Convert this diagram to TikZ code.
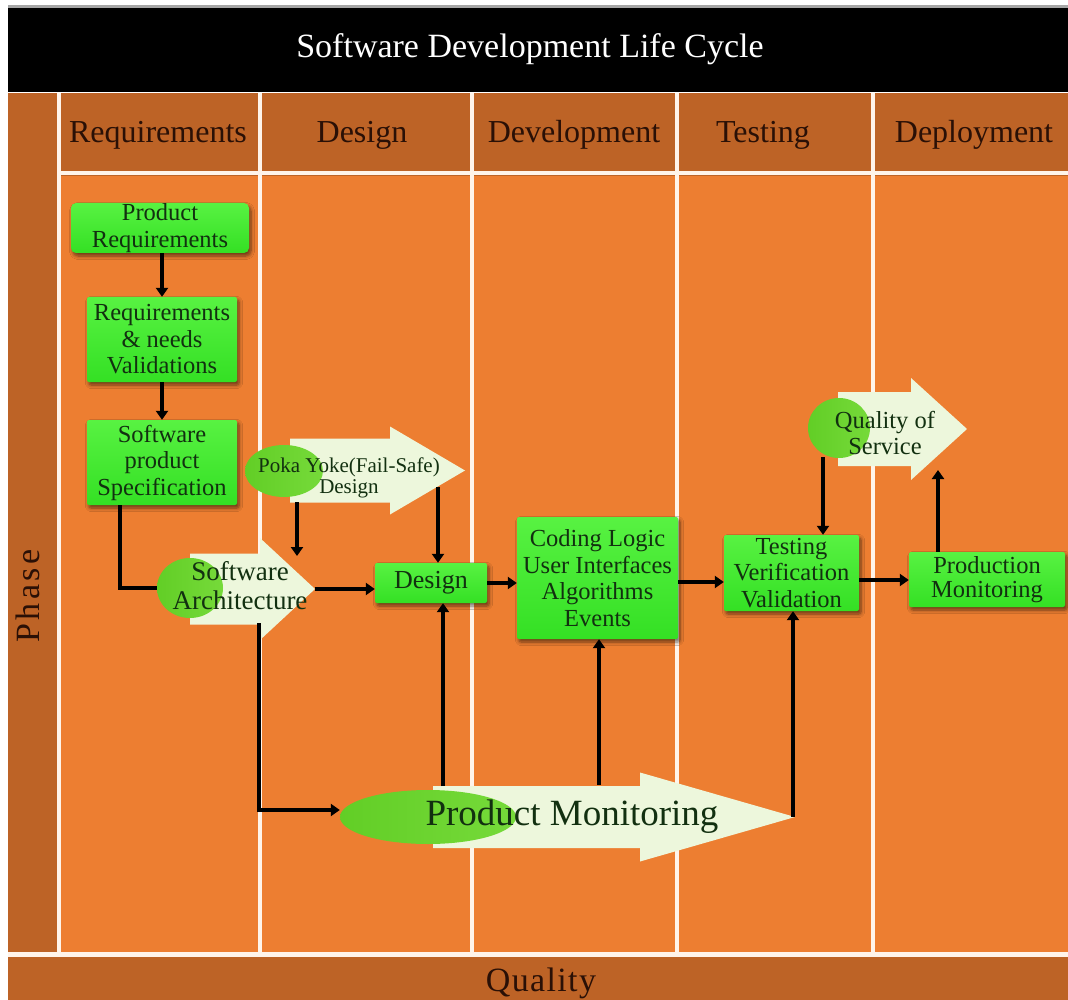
\documentclass[tikz,border=0pt]{standalone}
\usepackage{fontspec}
\setmainfont{Liberation Serif}
\usetikzlibrary{arrows.meta,shadows,shadows.blur,shapes.geometric,calc}

\definecolor{bandorange}{RGB}{189,99,38}
\definecolor{laneorange}{RGB}{237,126,49}
\definecolor{laneline}{RGB}{255,244,234}
\definecolor{boxtop}{RGB}{88,242,66}
\definecolor{boxbottom}{RGB}{52,224,36}
\definecolor{ovalgreen}{RGB}{98,206,38}
\definecolor{ovallight}{RGB}{118,218,58}
\definecolor{paleshape}{RGB}{237,247,220}
\definecolor{inkgreen}{RGB}{18,48,16}
\definecolor{headink}{RGB}{42,16,6}

% pale block arrow: name, tail x, neck x, tip x, mid y, half shaft, half head
\newcommand{\palearrow}[7]{%
  \fill[paleshape] (#2,#5-#6) -- (#3,#5-#6) -- (#3,#5-#7) -- (#4,#5)
        -- (#3,#5+#7) -- (#3,#5+#6) -- (#2,#5+#6) -- cycle;
  \coordinate (#1-tip) at (#4,#5);}

\begin{document}
\begin{tikzpicture}[x=1pt,y=-1pt,
  lanerule/.style={draw=laneline,line width=4pt},
  headtext/.style={anchor=base,text=headink,font=\fontsize{32}{36}\selectfont},
  gbox/.style={rounded corners=2pt,top color=boxtop,bottom color=boxbottom,
    inner sep=0pt,align=center,text=inkgreen,
    font=\fontsize{24.5}{26.5}\selectfont,
    blur shadow={shadow xshift=2pt,shadow yshift=-3pt,shadow blur radius=3.5pt,
      shadow blur steps=6,shadow opacity=55}},
  oval/.style={ellipse,inner sep=0pt,left color=ovalgreen,right color=ovallight},
  ovaltext/.style={align=center,text=inkgreen},
  wire/.style={line width=4.5pt},
  conn/.style={line width=4.5pt,-{Triangle[length=9pt,width=12pt]}}]

\useasboundingbox (0,0) rectangle (1068,1000);
\fill[white] (0,0) rectangle (1068,1000);

% title bar
\fill[black!35] (8,5) rectangle (1068,8);
\fill[black] (8,8) rectangle (1068,92);
\node[anchor=base,text=white,font=\fontsize{34}{40}\selectfont] (title) at (530,58)
  {Software Development Life Cycle};

% bands and lanes
\fill[bandorange] (8,93) rectangle (1068,1000);
\fill[laneorange] (61,176) rectangle (1068,952);
\draw[lanerule] (58.5,93) -- (58.5,952);
\foreach \lx in {260,472,677,873} \draw[lanerule] (\lx,93) -- (\lx,952);
\draw[lanerule] (58,173.5) -- (1068,173.5);
\draw[lanerule,line width=5pt] (8,954.5) -- (1068,954.5);

% column and row headings
\node[headtext] (hreq) at (158,143) {Requirements};
\node[headtext] (hdes) at (362,143) {Design};
\node[headtext] (hdev) at (574,143) {Development};
\node[headtext] (htst) at (763,143) {Testing};
\node[headtext] (hdep) at (974,143) {Deployment};
\node[anchor=base,rotate=90,text=headink,
  font=\fontsize{34}{36}\selectfont\addfontfeature{LetterSpace=10}] (phase) at (39,596) {Phase};
\node[anchor=base,text=headink,
  font=\fontsize{34}{36}\selectfont\addfontfeature{LetterSpace=4}] (quality) at (541,991) {Quality};

% pale block arrows with their green ovals
\palearrow{sa}{190}{260}{315}{589}{35.5}{51}
\palearrow{py}{290}{390}{465}{470.5}{32}{44}
\palearrow{qs}{838}{911}{967}{429}{37}{51}
\palearrow{pm}{433}{640}{795}{817}{31}{44.5}

\node[oval,minimum width=66pt,minimum height=60pt] (sae) at (190,588) {};
\node[oval,minimum width=78pt,minimum height=52pt] (pye) at (284,471) {};
\node[oval,minimum width=62pt,minimum height=60pt] (qse) at (839,428) {};
\node[oval,minimum width=176pt,minimum height=54pt] (pme) at (428,817) {};

\node[ovaltext,font=\fontsize{27}{29}\selectfont] (satext) at (240,586) {Software\\Architecture};
\node[ovaltext,font=\fontsize{21}{21}\selectfont] (pytext) at (349,478) {Poka Yoke(Fail-Safe)\\Design};
\node[ovaltext,font=\fontsize{24.5}{26}\selectfont] (qstext) at (885,433) {Quality of\\Service};
\node[ovaltext,font=\fontsize{37}{40}\selectfont] (pmtext) at (572,817) {Product Monitoring};

% process boxes
\node[gbox,rounded corners=5pt,minimum width=178pt,minimum height=50pt] (pr) at (160,228)
  {Product\\Requirements};
\node[gbox,minimum width=150pt,minimum height=85pt] (rv) at (162,339.5)
  {Requirements\\\& needs\\Validations};
\node[gbox,minimum width=150pt,minimum height=85pt] (sps) at (162,462.5)
  {Software\\product\\Specification};
\node[gbox,minimum width=112pt,minimum height=40pt,font=\fontsize{26}{28}\selectfont] (dsg) at (431,583)
  {Design};
\node[gbox,minimum width=161pt,minimum height=122pt] (code) at (597.5,578)
  {Coding Logic\\User Interfaces\\Algorithms\\Events};
\node[gbox,minimum width=135pt,minimum height=76pt] (test) at (791.5,573)
  {Testing\\Verification\\Validation};
\node[gbox,minimum width=156pt,minimum height=55pt,font=\fontsize{24.5}{24}\selectfont] (prod) at (987,579.5)
  {Production\\Monitoring};

% connector end points on the block arrows
\coordinate (pyfoot) at (297,502);
\coordinate (pydrop) at (297,556);
\coordinate (pyhead) at (438,487);
\coordinate (qsfoot) at (823,457);
\coordinate (qsin) at (938,470);
\coordinate (sadrop) at (259,623);
\coordinate (pmdes) at (443,786);
\coordinate (pmdev) at (599,785);

% connectors
\draw[conn] (rv.north |- pr.south) -- (rv.north);
\draw[conn] (rv.south) -- (sps.north);
\draw[wire] ([xshift=-42pt]sps.south) |- (sae.west);
\draw[conn] (sa-tip) -- (sa-tip -| dsg.west);
\draw[conn] (pyfoot) -- (pydrop);
\draw[conn] (pyhead) -- (pyhead |- dsg.north);
\draw[conn] (dsg.east) -- (dsg.east -| code.west);
\draw[conn] ([yshift=-4pt]code.east) -- ([yshift=-4pt]code.east -| test.west);
\draw[conn] ([yshift=-7pt]test.east) -- ([yshift=-7pt]test.east -| prod.west);
\draw[conn] (qsfoot) -- (qsfoot |- test.north);
\draw[conn] (qsin |- prod.north) -- (qsin);
\draw[conn] (sadrop) |- ([yshift=7pt]pme.west);
\draw[conn] (pmdes) -- (pmdes |- dsg.south);
\draw[conn] (pmdev) -- (pmdev |- code.south);
\draw[conn] ([xshift=-2pt]pm-tip) -- ([xshift=-2pt]pm-tip |- test.south);
\end{tikzpicture}
\end{document}
